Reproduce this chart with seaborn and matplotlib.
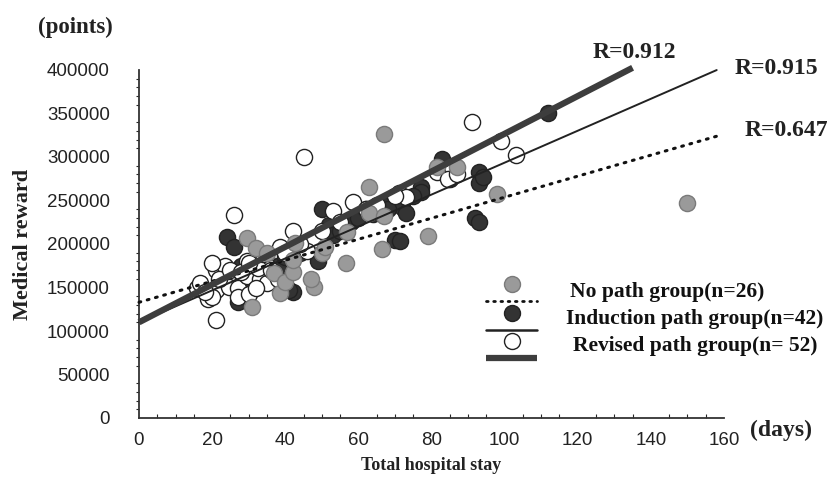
import numpy as np
import pandas as pd
import matplotlib
matplotlib.use("Agg")
import matplotlib.pyplot as plt
from matplotlib.ticker import MultipleLocator
import seaborn as sns

# ---------------- data ----------------
no_path_days = [29.5, 32, 31, 37, 38.5, 40, 42, 42, 42.7, 48, 50, 51, 56.6, 57, 63, 63,
                66.5, 67, 67, 79, 81.5, 87, 98, 150, 35, 47]
no_path_reward = [207000, 195000, 128000, 167000, 144000, 156000, 168000, 182000, 201000,
                  151000, 190000, 197000, 178000, 214000, 236000, 265000, 194000, 232000,
                  326000, 209000, 289000, 289000, 257000, 247000, 190000, 160000]

induction_days = [24, 26, 27, 42, 50, 52, 66.5, 72, 77, 70, 92, 93, 93, 83, 49, 41, 112,
                  93, 94, 77, 73, 71.5, 22, 25, 28, 30, 33, 35, 38, 40, 44, 46, 53, 55,
                  58, 60, 62, 64, 68, 75, 85, 36]
induction_reward = [208000, 196000, 133000, 145000, 240000, 222000, 246000, 243000, 266000,
                    205000, 230000, 283000, 270000, 298000, 180000, 147000, 350000, 225000,
                    277000, 260000, 236000, 204000, 155000, 165000, 175000, 160000, 170000,
                    180000, 175000, 185000, 190000, 200000, 210000, 215000, 225000, 230000,
                    240000, 235000, 240000, 255000, 275000, 160000]

revised_days = [45, 91, 99, 103, 26, 42, 53, 58.5, 71, 73, 81.5, 84.5, 87, 21, 16, 19, 21,
                23.5, 24, 21, 24.5, 27, 29.5, 27, 30, 33, 35, 38.5, 32.5, 29.5, 35, 47.6,
                46, 20, 16.7, 20, 18, 22, 25, 28, 30, 34, 36, 40, 44, 50, 55, 62, 65, 70,
                38, 32]
revised_reward = [300000, 340000, 318000, 302000, 233000, 215000, 238000, 248000, 259000,
                  254000, 283000, 275000, 280000, 113000, 150000, 137000, 170000, 175000,
                  162000, 147000, 151000, 150000, 163000, 139000, 143000, 160000, 175000,
                  197000, 172000, 180000, 155000, 205000, 192000, 178000, 155000, 139000,
                  145000, 160000, 170000, 168000, 178000, 188000, 170000, 190000, 200000,
                  215000, 225000, 240000, 245000, 255000, 160000, 150000]

groups = ["No path group(n=26)", "Induction path group(n=42)", "Revised path group(n= 52)"]
r_labels = ["R=0.647", "R=0.915", "R=0.912"]
fit_intercept = [133000, 110000, 110000]
fit_slope = [1208, 1835, 2167]
fit_xmax = [159, 158, 135]
x_ticks = [0, 20, 40, 60, 80, 100, 120, 140, 160]
y_ticks = [0, 50000, 100000, 150000, 200000, 250000, 300000, 350000, 400000]

# ---------------- style ----------------
sns.set_theme(style="white")
num_font = ["Liberation Sans", "DejaVu Sans"]
serif = ["Liberation Serif", "DejaVu Serif"]
plt.rcParams["font.family"] = num_font

fig = plt.figure(figsize=(8.29, 4.84), dpi=100)
ax = fig.add_axes([139 / 829, 1 - 418 / 484, (724 - 139) / 829, (418 - 70) / 484])

face = ["#9a9a9a", "#333333", "#ffffff"]
edge = ["#7a7a7a", "#222222", "#222222"]

df = pd.concat([
    pd.DataFrame({"days": no_path_days, "reward": no_path_reward, "group": groups[0]}),
    pd.DataFrame({"days": induction_days, "reward": induction_reward, "group": groups[1]}),
    pd.DataFrame({"days": revised_days, "reward": revised_reward, "group": groups[2]}),
])

order = [1, 2, 0]
for z, i in enumerate(order):
    sub = df[df["group"] == groups[i]]
    sns.scatterplot(data=sub, x="days", y="reward", ax=ax, s=135, color=face[i],
                    edgecolor=edge[i], linewidth=1.0, zorder=2 + z, legend=False)

line_styles = [dict(color="#111111", lw=2.2, ls=(0, (0.6, 2.2)), dash_capstyle="round"),
               dict(color="#222222", lw=1.4, ls="-"),
               dict(color="#3d3d3d", lw=4.5, ls="-", solid_capstyle="butt")]
for i in range(3):
    xs = np.array([0, fit_xmax[i]])
    ys = fit_intercept[i] + fit_slope[i] * xs
    ax.plot(xs, ys, zorder=6, clip_on=False, **line_styles[i])

# R labels (figure pixel positions)
r_pos = [(745, 130), (735, 69), (593, 53)]
for i in range(3):
    fig.text(r_pos[i][0] / 829, 1 - r_pos[i][1] / 484, r_labels[i], family=serif,
             fontweight="bold", fontsize=17, ha="left", va="center", color="#222222")

ax.set_xlim(0, 160)
ax.set_ylim(0, 400000)
ax.set_xticks(x_ticks)
ax.set_yticks(y_ticks)
ax.set_yticklabels([str(v) for v in y_ticks])
ax.xaxis.set_minor_locator(MultipleLocator(5))
ax.yaxis.set_minor_locator(MultipleLocator(10000))
ax.tick_params(axis="both", which="major", labelsize=13.5, colors="#222222", length=5,
               width=1, direction="out", labelcolor="#222222")
ax.tick_params(axis="y", which="major", pad=16)
ax.tick_params(axis="x", which="major", pad=5)
ax.tick_params(axis="x", which="minor", length=3, width=0.8, direction="in", bottom=True)
ax.tick_params(axis="y", which="minor", length=2.5, width=0.8, direction="out", left=True)
for sp in ["top", "right"]:
    ax.spines[sp].set_visible(False)
for sp in ["left", "bottom"]:
    ax.spines[sp].set_color("#333333")
    ax.spines[sp].set_linewidth(1.3)

ax.set_xlabel("Total hospital stay", family=serif, fontweight="bold", fontsize=13,
              labelpad=6, color="#222222")
ax.set_ylabel("Medical reward", family=serif, fontweight="bold", fontsize=16,
              labelpad=10, color="#222222")
fig.text(38 / 829, 1 - 27 / 484, "(points)", family=serif, fontweight="bold",
         fontsize=16.5, ha="left", va="center", color="#222222")
fig.text(750 / 829, 1 - 430 / 484, "(days)", family=serif, fontweight="bold",
         fontsize=17, ha="left", va="center", color="#222222")

# legend (custom layout: marker above line sample)
lx0, lx1, mx = 486 / 829, 537 / 829, 512 / 829
rows_marker_y = [284, 313, 341]
rows_line_y = [301, 330, 358]
rows_text = [(570, 292), (566, 319), (573, 346)]
leg_line_styles = [dict(color="#111111", lw=2.0, ls=(0, (0.6, 2.0)), dash_capstyle="round"),
                   dict(color="#222222", lw=1.8, ls="-"),
                   dict(color="#3d3d3d", lw=4.5, ls="-", solid_capstyle="butt")]
for i in range(3):
    fig.add_artist(plt.Line2D([mx], [1 - rows_marker_y[i] / 484], marker="o", ms=11.5,
                              mfc=face[i], mec=edge[i], mew=1.0, ls="none"))
    fig.add_artist(plt.Line2D([lx0, lx1], [1 - rows_line_y[i] / 484] * 2, **leg_line_styles[i]))
    fig.text(rows_text[i][0] / 829, 1 - rows_text[i][1] / 484, groups[i], family=serif,
             fontweight="bold", fontsize=15.5, ha="left", va="center", color="#111111")

fig.savefig("out.png", dpi=100)
